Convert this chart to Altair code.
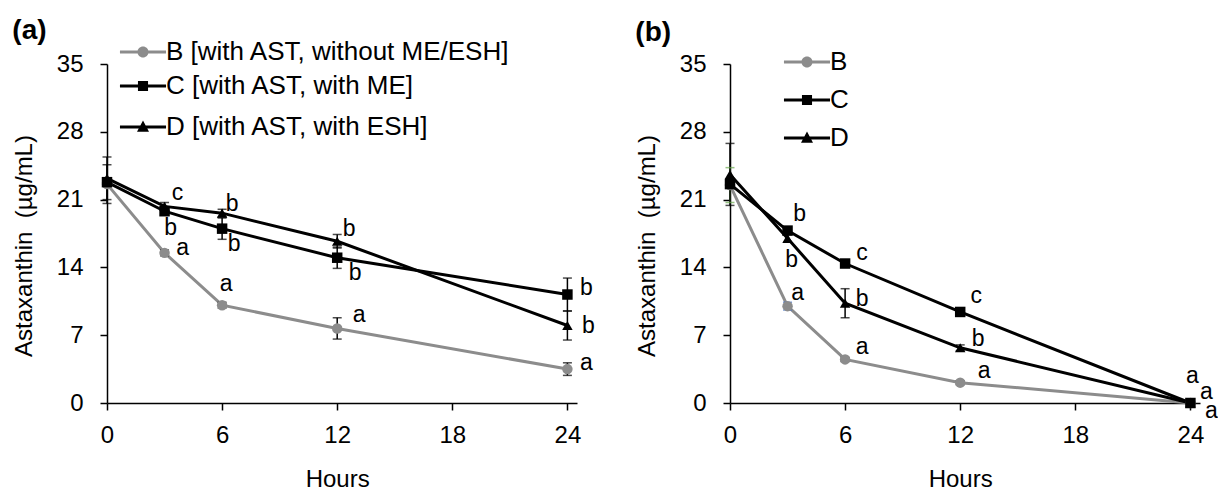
import altair as alt
import pandas as pd

HOURS = [0, 3, 6, 12, 24]
SERIES = ["B", "C", "D"]
X_TICKS = [0, 6, 12, 18, 24]
Y_TICKS = [0, 7, 14, 21, 28, 35]
LEGEND_A = ["B [with AST, without ME/ESH]", "C [with AST, with ME]", "D [with AST, with ESH]"]
LEGEND_B = ["B", "C", "D"]

# Panel (a) values (ug/mL)
A_B = [22.6, 15.5, 10.1, 7.7, 3.5]
A_C = [22.8, 19.8, 18.0, 15.0, 11.2]
A_D = [23.2, 20.3, 19.6, 16.7, 8.0]
A_B_ERR = [2.0, 0.3, 0.3, 1.1, 0.65]
A_C_ERR = [0.3, 0.4, 1.1, 1.1, 1.7]
A_D_ERR = [2.2, 0.4, 0.4, 0.7, 1.5]
A_B_LET = ["", "a", "a", "a", "a"]
A_C_LET = ["", "b", "b", "b", "b"]
A_D_LET = ["", "c", "b", "b", "b"]

# Panel (b) values (ug/mL)
B_B = [22.5, 10.0, 4.5, 2.1, 0.0]
B_C = [22.6, 17.8, 14.4, 9.4, 0.0]
B_D = [23.6, 17.0, 10.3, 5.7, 0.0]
B_B_ERR = [1.8, 0.4, 0.2, 0.2, 0.0]
B_C_ERR = [0.3, 0.3, 0.3, 0.3, 0.0]
B_D_ERR = [3.2, 0.4, 1.5, 0.3, 0.0]
B_B_LET = ["", "a", "a", "a", "a"]
B_C_LET = ["", "b", "c", "c", "a"]
B_D_LET = ["", "b", "b", "b", "a"]

# error bar colours (the reference has a few coloured caps in panel b)
K = "#000000"
A_ERR_COL = [[K] * 5, [K] * 5, [K] * 5]
B_ERR_COL = [["#6aa84f", "#4472c4", K, K, K], [K] * 5, [K] * 5]

# letter label offsets from their point, in pixels (dx, dy)
A_B_OFF = [(0, 0), (18, -5), (4, -21), (22, -13), (19, -6)]
A_C_OFF = [(0, 0), (6, 17), (12, 15), (18, 15), (19, -7)]
A_D_OFF = [(0, 0), (13, -13), (10, -9), (12, -12), (21, 0)]
B_B_OFF = [(0, 0), (10, -13), (17, -12), (24, -12), (21, 8)]
B_C_OFF = [(0, 0), (12, -17), (17, -11), (16, -16), (2, -27)]
B_D_OFF = [(0, 0), (4, 22), (17, -4), (18, -9), (16, -11)]

COLORS = ["#8c8c8c", "#000000", "#000000"]
FONT = "Liberation Sans"
W, H = 470, 339
XMAX, YMAX = 24.5, 35
PX_X = W / XMAX
PX_Y = H / YMAX

# legend symbols: filled line segment with a marker in the middle (unit space, r = 12 px)
LEG_PATHS = [
    "M-1.92,-0.125H1.92V0.125H-1.92ZM0.46,0A0.46,0.46,0,1,1,-0.46,0A0.46,0.46,0,1,1,0.46,0Z",
    "M-1.92,-0.125H1.92V0.125H-1.92ZM-0.42,-0.42H0.42V0.42H-0.42Z",
    "M-1.92,-0.125H1.92V0.125H-1.92ZM0,-0.55L0.5,0.4H-0.5Z",
]


def panel(vals, errs, ecols, lets, offs, legend_labels, leg_x, leg_rows, title, title_offset):
    rows, erows, lrows = [], [], []
    for s, v, e, ec, l, o in zip(SERIES, vals, errs, ecols, lets, offs):
        for i, t in enumerate(HOURS):
            rows.append({"t": t, "s": s, "v": v[i]})
            if e[i] > 0:
                erows.append({"t": t, "s": s, "lo": v[i] - e[i], "hi": v[i] + e[i], "ec": ec[i]})
            if l[i]:
                dx, dy = o[i]
                lrows.append({"tx": t + dx / PX_X, "ty": v[i] - dy / PX_Y, "txt": l[i]})
    df = pd.DataFrame(rows)
    edf = pd.DataFrame(erows)
    ldf = pd.DataFrame(lrows)

    xs = alt.Scale(domain=[0, XMAX], nice=False, zero=False)
    ys = alt.Scale(domain=[0, YMAX], nice=False)
    common = dict(grid=False, tickSize=7, labelFontSize=24, titleFontSize=24,
                  labelFont=FONT, titleFont=FONT, titleFontWeight="normal",
                  domainColor="black", tickColor="black", labelColor="black",
                  titleColor="black", domainWidth=1.5, tickWidth=1.5, labelFlush=False)
    xax = alt.Axis(values=X_TICKS, labelPadding=13, titlePadding=20, titleX=W * 24 / XMAX / 2, **common)
    yax = alt.Axis(values=Y_TICKS, labelPadding=17, titlePadding=20, titleY=H / 2 + 12, **common)
    X = lambda f: alt.X(f, type="quantitative", scale=xs, axis=xax, title="Hours")
    Y = lambda f: alt.Y(f, type="quantitative", scale=ys, axis=yax,
                        title="Astaxanthin\u00a0 (\u00b5g/mL)")
    col = alt.Color("s:N", scale=alt.Scale(domain=SERIES, range=COLORS), legend=None)
    ecol = alt.Color("ec:N", scale=None)

    base = alt.Chart(df)
    lines = base.mark_line(strokeWidth=3).encode(x=X("t"), y=Y("v"), color=col, detail="s:N")
    ebase = alt.Chart(edf)
    erule = ebase.mark_rule(strokeWidth=1.5).encode(x=X("t"), y=Y("lo"), y2="hi:Q", color=ecol)
    elo = ebase.mark_tick(orient="horizontal", size=9, thickness=1.5).encode(x=X("t"), y=Y("lo"), color=ecol)
    ehi = ebase.mark_tick(orient="horizontal", size=9, thickness=1.5).encode(x=X("t"), y=Y("hi"), color=ecol)
    pts = base.mark_point(filled=True, opacity=1, size=110).encode(
        x=X("t"), y=Y("v"), color=col,
        shape=alt.Shape("s:N", scale=alt.Scale(domain=SERIES, range=["circle", "square", "triangle-up"]),
                        legend=None))
    txt = alt.Chart(ldf).mark_text(fontSize=23, font=FONT, color="black", align="center",
                                   baseline="middle").encode(x=X("tx"), y=Y("ty"), text="txt:N")

    layers = [lines, erule, elo, ehi, pts, txt]
    for lab, colr, path, ly in zip(legend_labels, COLORS, LEG_PATHS, leg_rows):
        ldf1 = pd.DataFrame({"lab": [lab]})
        layers.append(
            alt.Chart(ldf1).mark_point(filled=True, fill=colr, opacity=1).encode(
                shape=alt.Shape("lab:N", scale=alt.Scale(domain=[lab], range=[path]),
                                legend=alt.Legend(orient="none", legendX=leg_x, legendY=ly, title=None,
                                                  labelFontSize=26, labelFont=FONT, labelColor="black",
                                                  labelLimit=0, padding=0, labelOffset=10,
                                                  symbolSize=576, symbolStrokeWidth=0,
                                                  symbolFillColor=colr, symbolOpacity=1))
            ).transform_filter("false")
        )

    return alt.layer(*layers).resolve_scale(shape="independent", color="independent").properties(
        width=W, height=H,
        title=alt.TitleParams(title, anchor="start", frame="bounds", fontSize=28, fontWeight="bold",
                              font=FONT, color="black", offset=title_offset))


pa = panel([A_B, A_C, A_D], [A_B_ERR, A_C_ERR, A_D_ERR], A_ERR_COL, [A_B_LET, A_C_LET, A_D_LET],
           [A_B_OFF, A_C_OFF, A_D_OFF], LEGEND_A, 23, [-25, 9, 50], "(a)", -6)
pb = panel([B_B, B_C, B_D], [B_B_ERR, B_C_ERR, B_D_ERR], B_ERR_COL, [B_B_LET, B_C_LET, B_D_LET],
           [B_B_OFF, B_C_OFF, B_D_OFF], LEGEND_B, 64, [-15, 23, 61], "(b)", 2)

chart = alt.hconcat(pa, pb, spacing=40).properties(
    padding={"left": 12, "top": 17, "right": 0, "bottom": 0}
).configure_view(stroke=None)

chart.save("out.html", embed_options={"renderer": "svg", "actions": False})
